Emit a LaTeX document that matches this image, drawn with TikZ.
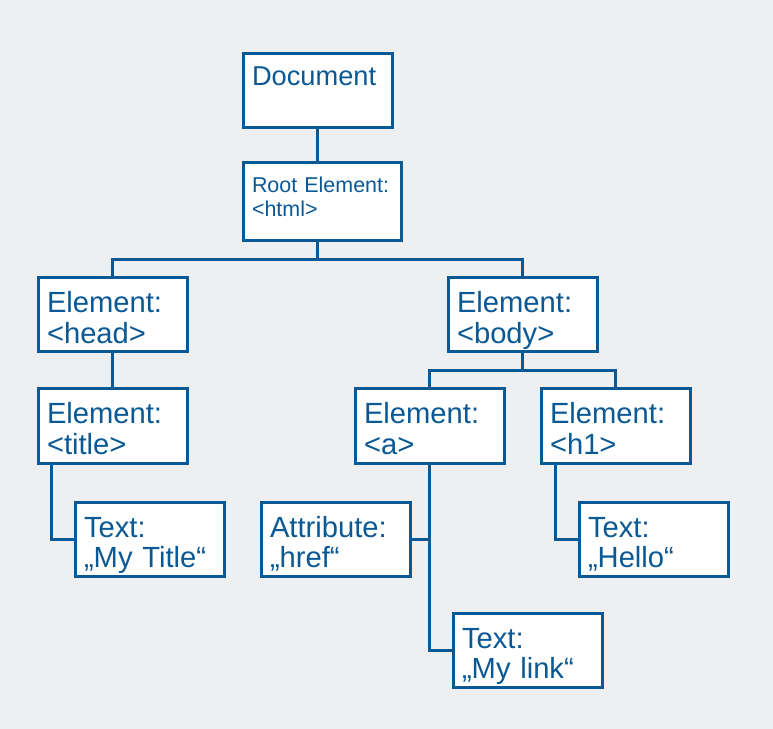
\documentclass[tikz,border=0pt]{standalone}
\usepackage{fontspec}
\setmainfont{Liberation Sans}
\definecolor{domblue}{RGB}{10,88,148}
\definecolor{dombg}{RGB}{238,239,241}
\newcommand\rowa{-55.6mm}
\newcommand\rowb{-77.8mm}
\newcommand\rowc{-100.4mm}
\newcommand\rowd{-122.6mm}
\tikzset{
  dombox/.style={draw=domblue,fill=white,line width=0.6mm,text=domblue,
    anchor=north west,outer sep=0pt,inner xsep=1.8mm,inner ysep=0pt,
    text width=26.2mm,align=left,
    font=\fontsize{16.6pt}{17.6pt}\selectfont,
    text height=7mm,text depth=7.8mm},
  domline/.style={draw=domblue,line width=0.6mm}
}

\begin{document}
\begin{tikzpicture}
    \fill[dombg] (0,0) rectangle (154.6mm,-145.8mm);
    \useasboundingbox (0,0) rectangle (154.6mm,-145.8mm);

    % top of the tree
    \node[dombox,font=\fontsize{15.5pt}{17pt}\selectfont,
      text height=6.4mm,text depth=8.4mm] (doc) at (48.6mm,-10.8mm) {Document};
    \node[dombox,text width=28mm,font=\fontsize{12.2pt}{13.4pt}\selectfont,
      text height=6mm,text depth=9.6mm] (root) at (48.6mm,-32.6mm) {Root Element:\\<html>};

    \node[dombox] (head) at (7.6mm,\rowa) {Element:\\<head>};
    \node[dombox] (body) at (89.6mm,\rowa) {Element:\\<body>};

    \node[dombox] (title) at (7.6mm,\rowb) {Element:\\<title>};
    \node[dombox] (a) at (71mm,\rowb) {Element:\\<a>};
    \node[dombox] (h1) at (108.2mm,\rowb) {Element:\\<h1>};

    \node[dombox] (mytitle) at (15mm,\rowc) {Text:\\„My Title“};
    \node[dombox] (attr) at (52.2mm,\rowc) {Attribute:\\„href“};
    \node[dombox] (hello) at (115.8mm,\rowc) {Text:\\„Hello“};

    \node[dombox] (mylink) at (90.6mm,\rowd) {Text:\\„My link“};

    % connectors
    \coordinate (rootsplit) at (63.5mm,-52mm);
    \coordinate (bodysplit) at (104.5mm,-74.2mm);

    \draw[domline] (doc.south) -- (doc.south |- root.north);
    \draw[domline] (root.south -| rootsplit) -- (rootsplit);
    \draw[domline] (head.north) |- (rootsplit) -| (body.north);
    \draw[domline] (head.south) -- (title.north);
    \draw[domline] ([xshift=2.6mm]title.south west) |- (mytitle.west);
    \draw[domline] (body.south) -- (bodysplit);
    \draw[domline] (a.north) |- (bodysplit) -| (h1.north);
    \draw[domline] (a.south) |- (mylink.west);
    \draw[domline] (attr.east) -- (attr.east -| a.south);
    \draw[domline] ([xshift=2.8mm]h1.south west) |- (hello.west);
  \end{tikzpicture}
\end{document}
